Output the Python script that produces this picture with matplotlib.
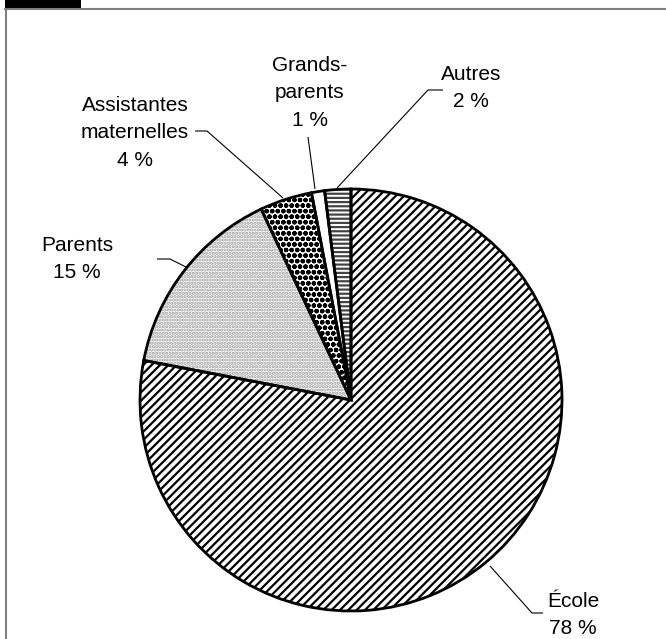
import matplotlib
matplotlib.use("Agg")
import matplotlib.pyplot as plt
from matplotlib.patches import Rectangle

plt.rcParams['font.family'] = ['Liberation Sans', 'DejaVu Sans']

# data
labels = ["École", "Parents", "Assistantes\nmaternelles", "Grands-\nparents", "Autres"]
values = [78, 15, 4, 1, 2]
hatches = ["////", ".....", "ooo", "", "----"]
hatch_colors = ["black", "#9a9a9a", "black", "white", "#444444"]

W, H = 666, 639

def py(y):
    # pixel y (top-down) to axes y (bottom-up)
    return H - y

fig = plt.figure(figsize=(W / 100, H / 100), dpi=100)
ax = fig.add_axes([0, 0, 1, 1])

cx, cy, r = 351, 400, 211

# fill + hatch pass
plt.rcParams['hatch.linewidth'] = 1.6
wedges, _ = ax.pie(values, center=(cx, py(cy)), radius=r, startangle=90,
                   counterclock=False, frame=True,
                   wedgeprops=dict(facecolor="white", linewidth=0))
for w, h, c in zip(wedges, hatches, hatch_colors):
    w.set_hatch(h)
    w.set_edgecolor(c)
    w.set_linewidth(0)

# outline pass
ax.pie(values, center=(cx, py(cy)), radius=r, startangle=90,
       counterclock=False, frame=True,
       wedgeprops=dict(fill=False, edgecolor="black", linewidth=2.0))

ax.set_xlim(0, W)
ax.set_ylim(0, H)
ax.set_aspect("equal")
ax.axis("off")

# labels: text position and leader line points (pixels)
label_text = ["École\n78 %", "Parents\n15 %", "Assistantes\nmaternelles\n4 %",
              "Grands-\nparents\n1 %", "Autres\n2 %"]
text_pos = [(573, 615), (77, 259), (135, 133), (310, 93), (471, 88)]
leaders = [
    [(490, 566), (532, 613), (543, 613)],
    [(157, 259), (170, 259), (186, 267)],
    [(195, 131), (207, 131), (283, 198)],
    [(308, 137), (315, 189)],
    [(443, 90), (428, 90), (337, 188)],
]
for t, (tx, ty), pts in zip(label_text, text_pos, leaders):
    ax.text(tx, py(ty), t, ha="center", va="center", fontsize=15,
            linespacing=1.55, color="black")
    ax.plot([p[0] for p in pts], [py(p[1]) for p in pts], color="black",
            linewidth=0.8, solid_capstyle="butt")

# frame
ax.plot([5, W], [py(9), py(9)], color="#808080", linewidth=1.5)
ax.plot([6, 6], [py(9), 0], color="#808080", linewidth=1.5)
ax.add_patch(Rectangle((5, py(8)), 76, 8, facecolor="black", edgecolor="none"))

fig.savefig("out.png", dpi=100)
